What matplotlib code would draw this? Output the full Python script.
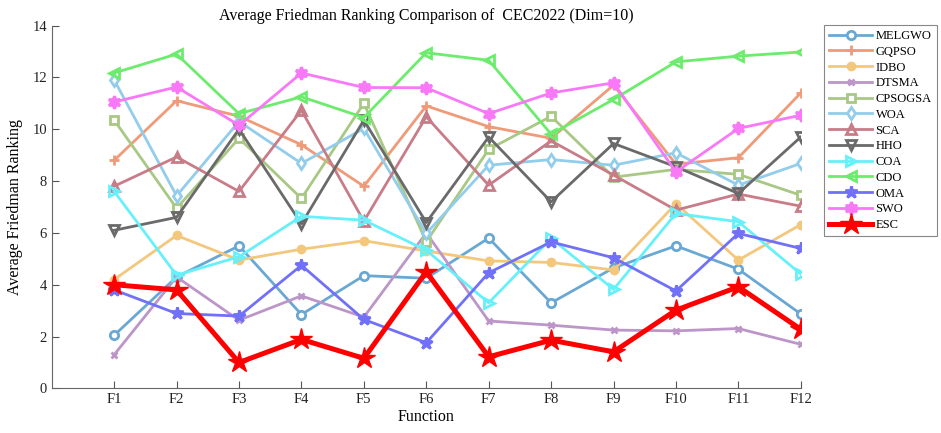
import numpy as np
import matplotlib
matplotlib.use("Agg")
import matplotlib.pyplot as plt

plt.rcParams["font.family"] = ["Liberation Serif", "DejaVu Serif"]

functions = [f"F{i}" for i in range(1, 13)]

MELGWO = [2.05, 4.3, 5.5, 2.85, 4.35, 4.25, 5.8, 3.3, 4.65, 5.5, 4.6, 2.87]
GQPSO = [8.8, 11.1, 10.5, 9.4, 7.8, 10.9, 10.1, 9.65, 11.7, 8.65, 8.9, 11.4]
IDBO = [4.2, 5.9, 4.95, 5.37, 5.7, 5.3, 4.92, 4.86, 4.57, 7.13, 4.95, 6.32]
DTSMA = [1.3, 4.3, 2.63, 3.57, 2.75, 6.0, 2.6, 2.44, 2.25, 2.22, 2.31, 1.7]
CPSOGSA = [10.35, 6.95, 9.65, 7.33, 11.0, 5.66, 9.22, 10.5, 8.15, 8.45, 8.26, 7.45]
WOA = [11.9, 7.43, 10.3, 8.68, 10.03, 5.98, 8.61, 8.83, 8.61, 9.09, 7.84, 8.68]
SCA = [7.8, 8.93, 7.6, 10.73, 6.45, 10.48, 7.84, 9.55, 8.23, 6.88, 7.5, 7.03]
HHO = [6.1, 6.6, 10.0, 6.35, 10.35, 6.4, 9.7, 7.2, 9.45, 8.55, 7.52, 9.7]
COA = [7.6, 4.37, 5.08, 6.64, 6.49, 5.33, 3.3, 5.79, 3.82, 6.75, 6.43, 4.41]
CDO = [12.17, 12.9, 10.6, 11.25, 10.45, 12.95, 12.66, 9.81, 11.15, 12.6, 12.82, 12.98]
OMA = [3.8, 2.89, 2.79, 4.75, 2.66, 1.76, 4.46, 5.65, 5.04, 3.76, 5.98, 5.4]
SWO = [11.05, 11.63, 10.15, 12.17, 11.61, 11.6, 10.6, 11.4, 11.79, 8.35, 10.03, 10.54]
ESC = [4.0, 3.8, 1.0, 1.89, 1.16, 4.5, 1.22, 1.86, 1.41, 3.02, 3.92, 2.28]

HEXAGRAM = (6, 1, 0)

# name, values, colour, marker, size, filled marker?
series = [
    ("MELGWO", MELGWO, "#6aa8d4", "o", 6, False),
    ("GQPSO", GQPSO, "#ef9a78", "+", 7, False),
    ("IDBO", IDBO, "#f3c77c", "o", 5, True),
    ("DTSMA", DTSMA, "#bc96c8", "x", 5, False),
    ("CPSOGSA", CPSOGSA, "#a8c884", "s", 5.5, False),
    ("WOA", WOA, "#92cdec", "d", 6.5, False),
    ("SCA", SCA, "#c87c88", "^", 7, False),
    ("HHO", HHO, "#6a6a6a", "v", 7, False),
    ("COA", COA, "#66f0fa", ">", 7, False),
    ("CDO", CDO, "#6cec6c", "<", 7, False),
    ("OMA", OMA, "#7070f8", "*", 9, True),
    ("SWO", SWO, "#f878f8", HEXAGRAM, 9, True),
]

x = np.arange(1, 13)

fig = plt.figure(figsize=(9.41, 4.33), dpi=100)
ax = fig.add_axes([0.055, 0.103, 0.796, 0.838])

for name, vals, col, mk, ms, filled in series:
    face = col if filled else ("white" if mk in ("o", "s", "d") else "none")
    ax.plot(x, vals, color=col, lw=2, marker=mk, ms=ms, mew=2,
            mfc=face, mec=col, label=name)

ax.plot(x, ESC, color="#ff0000", lw=3.6, marker="*", ms=16, mfc="#ff0000",
        mec="#ff0000", label="ESC", zorder=5)

ax.set_xlim(0, 12)
ax.set_ylim(0, 14)
ax.set_xticks(x)
ax.set_xticklabels(functions)
ax.set_yticks(np.arange(0, 15, 2))
ax.tick_params(direction="in", length=5, color="#555555", labelsize=10.5,
               labelcolor="#222222")
for s in ("top", "right"):
    ax.spines[s].set_visible(False)
for s in ("left", "bottom"):
    ax.spines[s].set_color("#666666")

ax.set_xlabel("Function", fontsize=11.5, labelpad=2)
ax.set_ylabel("Average Friedman Ranking", fontsize=11.5, labelpad=7)
ax.set_title("Average Friedman Ranking Comparison of  CEC2022 (Dim=10)",
             fontsize=11.5, pad=4)

leg = fig.legend(loc="upper left", bbox_to_anchor=(0.876, 0.942),
                 fontsize=9, handlelength=3.4, labelspacing=0.3,
                 borderpad=0.4, handletextpad=0.3, fancybox=False,
                 framealpha=1, edgecolor="#888888", borderaxespad=0)
leg.get_frame().set_linewidth(0.8)

fig.savefig("out.png", dpi=100)
